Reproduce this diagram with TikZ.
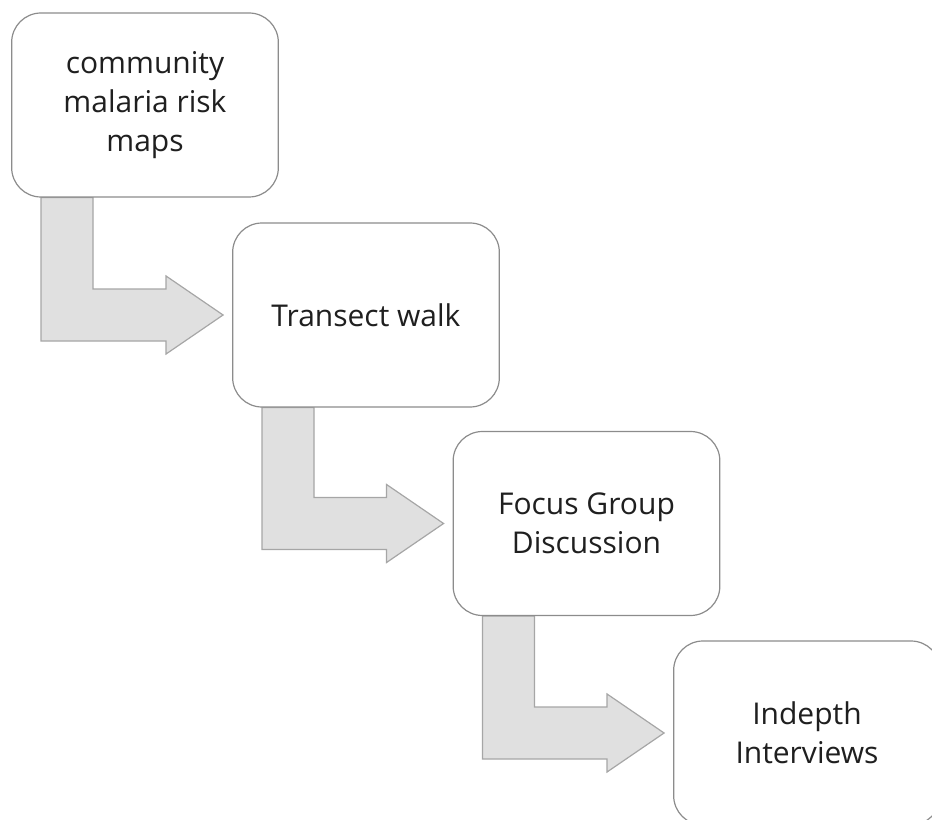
\documentclass[tikz,border=0pt]{standalone}
\usepackage{fontspec}
\setmainfont{Open Sans}
\usetikzlibrary{calc,backgrounds}

\tikzset{
  stage/.style={draw=black!45, line width=0.9pt, fill=white, rounded corners=22pt,
    minimum width=200pt, minimum height=138pt, align=center, text=black!88,
    font=\fontsize{22.5}{29}\selectfont},
  bent/.style={draw=black!35, line width=0.9pt, fill=black!12}
}
%% bent arrow from the bottom of #1 to the left side of #2
\newcommand{\bentarrow}[2]{%
  \draw[bent] ($(#1.south west)+(30,0)$) |- ($(#2.west)+(-66,26)$) -- ++(0,13)
    -- ($(#2.west)+(-9,0)$) -- ($(#2.west)+(-66,-39)$) -- ++(0,13)
    -| ($(#1.south west)+(82,0)$) -- cycle;}

\begin{document}
\begin{tikzpicture}[x=0.75pt,y=-0.75pt]
    \clip (0,0) rectangle (932,820);
    \useasboundingbox (0,0) rectangle (932,820);
    %% Draw the stages
    \node[stage] (maps) at (145,105) {community\\malaria risk\\maps};
    \node[stage] (walk) at (366,315) {Transect walk};
    \node[stage] (fgd) at (586.5,523.5) {Focus Group\\Discussion};
    \node[stage] (idi) at (807,733) {Indepth\\Interviews};
    %% Draw the arrows
    \begin{pgfonlayer}{background}
      \bentarrow{maps}{walk}
      \bentarrow{walk}{fgd}
      \bentarrow{fgd}{idi}
    \end{pgfonlayer}
\end{tikzpicture}
\end{document}
